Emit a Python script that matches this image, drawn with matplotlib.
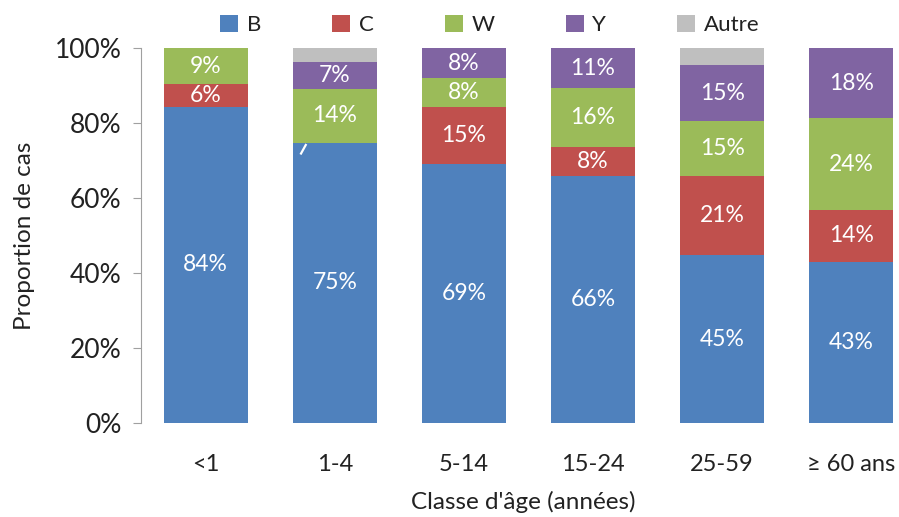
import matplotlib.pyplot as plt
import numpy as np

plt.rcParams['font.family'] = ['Lato', 'DejaVu Sans']

categories = ['<1', '1-4', '5-14', '15-24', '25-59', '≥ 60 ans']
series_names = ['B', 'C', 'W', 'Y', 'Autre']
colors = ['#4F81BD', '#C0504D', '#9BBB59', '#8064A2', '#BFBFBF']

B = [84.3, 74.8, 69.2, 65.9, 44.8, 43.0]
C = [6.0, 0.0, 15.2, 7.7, 21.1, 13.8]
W = [9.7, 14.3, 7.6, 15.7, 14.6, 24.5]
Y = [0.0, 7.3, 8.0, 10.7, 15.0, 18.7]
Autre = [0.0, 3.6, 0.0, 0.0, 4.5, 0.0]

# labels shown on the chart (empty = no label)
labels = [
    ['84%', '75%', '69%', '66%', '45%', '43%'],
    ['6%', '', '15%', '8%', '21%', '14%'],
    ['9%', '14%', '8%', '16%', '15%', '24%'],
    ['', '7%', '8%', '11%', '15%', '18%'],
    ['', '', '', '', '', ''],
]

data = [B, C, W, Y, Autre]

fig = plt.figure(figsize=(8.99, 5.17), dpi=100)
ax = fig.add_axes([141 / 899, 1 - 423 / 517, 758 / 899, 375 / 517])

x = np.arange(len(categories))
bottom = np.zeros(len(categories))
handles = []
for k, vals in enumerate(data):
    vals = np.array(vals)
    h = ax.bar(x, vals, 0.65, bottom=bottom, color=colors[k], label=series_names[k])
    handles.append(h)
    for i in range(len(x)):
        if labels[k][i]:
            ax.text(x[i], bottom[i] + vals[i] / 2, labels[k][i], ha='center', va='center',
                    color='white', fontsize=16.5)
    bottom = bottom + vals

# leader line of the tiny C segment in 1-4
top_b = B[1]
ax.plot([x[1] - 0.265, x[1] - 0.22], [top_b - 3.2, top_b - 0.4], color='white', lw=1.6,
        solid_capstyle='butt')

ax.set_xlim(-0.5, 5.37)
ax.set_ylim(0, 100)
ax.set_yticks([0, 20, 40, 60, 80, 100])
ax.set_yticklabels(['0%', '20%', '40%', '60%', '80%', '100%'], fontsize=19, color='#222222')
ax.set_xticks(x)
ax.set_xticklabels(categories, fontsize=17, color='#222222')

for s in ['top', 'right', 'bottom']:
    ax.spines[s].set_visible(False)
ax.spines['left'].set_color('#A0A0A0')
ax.tick_params(axis='y', length=6, color='#A0A0A0', pad=8)
ax.tick_params(axis='x', length=0, pad=22)

ax.set_ylabel('Proportion de cas', fontsize=17.5, color='#222222', labelpad=14)
fig.text(523 / 899, 1 - 502 / 517, "Classe d'âge (années)", fontsize=17.5, color='#222222',
         ha='center', va='center')

fig.legend(handles=handles, labels=series_names, loc='center', bbox_to_anchor=(0.545, 0.952),
           ncol=5, frameon=False, fontsize=16, handlelength=0.8, handleheight=0.8,
           handletextpad=0.4, columnspacing=3.2, labelcolor='#222222')

fig.savefig('out.png', dpi=100)
